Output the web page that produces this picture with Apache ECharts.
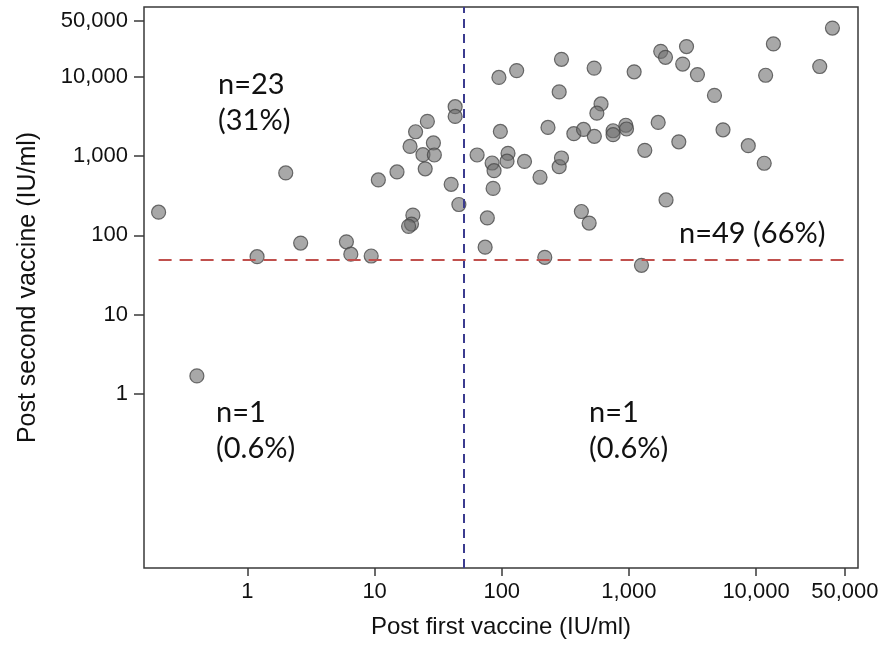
<!DOCTYPE html>
<html>
<head>
<meta charset="utf-8">
<script src="https://cdn.jsdelivr.net/npm/echarts@6/dist/echarts.min.js"></script>
<style>
html,body{margin:0;padding:0;background:#fff;}
#chart{width:882px;height:650px;}
</style>
</head>
<body>
<div id="chart"></div>
<script>
// Post first vaccine (IU/ml)
const postFirst = [
  0.2, 2.0, 1.19, 2.62, 6.0, 6.5, 9.4, 10.7, 15, 19, 21, 26, 24, 29, 29.5, 25, 20, 19.5, 18.5, 40, 46, 43, 43, 0.4,
  64, 95, 97.5, 84, 87, 85.5, 77, 74, 112, 110, 131, 151, 200, 218, 231, 283, 295, 283, 295, 369, 440, 423, 487,
  535, 533, 604, 560, 751, 751, 946, 958, 1100, 1256, 1334, 1700, 1780, 1940, 1960, 2470, 2650, 2840, 3460, 4710,
  5500, 8690, 11600, 11900, 13700, 31700, 39900
];
// Post second vaccine (IU/ml)
const postSecond = [
  196, 612, 54, 80, 83, 58, 55, 500, 630, 1320, 2020, 2730, 1040, 1460, 1030, 690, 180, 139, 130, 440, 245, 4180, 3150, 1.7,
  1030, 9770, 2040, 816, 653, 391, 166, 71, 1080, 860, 11900, 855, 540, 53, 2290, 6420, 16500, 733, 944, 1910, 2160, 200, 143,
  1770, 12800, 4530, 3460, 2080, 1855, 2440, 2190, 11500, 42, 1180, 2650, 20800, 17500, 280, 1510, 14400, 23900, 10600, 5800,
  2140, 1350, 810, 10400, 25800, 13400, 40900
];
const xTickValues = [1, 10, 100, 1000, 10000, 50000];
const xTickLabels = ['1', '10', '100', '1,000', '10,000', '50,000'];
const yTickValues = [1, 10, 100, 1000, 10000, 50000];
const yTickLabels = ['1', '10', '100', '1,000', '10,000', '50,000'];
const cutoffFirst = 50;
const cutoffSecond = 50;
const cutoffLineFrom = 0.2;
const cutoffLineTo = 50000;
const quadrantTexts = ['n=23\n(31%)', 'n=49 (66%)', 'n=1\n(0.6%)', 'n=1\n(0.6%)'];

const points = postFirst.map((v, i) => [v, postSecond[i]]);
const xLabelMap = {}; xTickValues.forEach((v, i) => xLabelMap[v] = xTickLabels[i]);
const yLabelMap = {}; yTickValues.forEach((v, i) => yLabelMap[v] = yTickLabels[i]);

const chart = echarts.init(document.getElementById('chart'), null, {renderer: 'canvas'});
const tickFont = {fontFamily: 'Liberation Sans, Arial, sans-serif', fontSize: 22, color: '#111'};
const annFont = 'Lato, sans-serif';

chart.setOption({
  animation: false,
  backgroundColor: '#fff',
  grid: {left: 144, right: 24, top: 7, bottom: 82, show: true, borderColor: '#3a3a3a', borderWidth: 1.5, containLabel: false},
  xAxis: {
    type: 'log', logBase: 10, min: 0.1535, max: 63400,
    name: 'Post first vaccine (IU/ml)', nameLocation: 'middle', nameGap: 47,
    nameTextStyle: {fontFamily: 'Liberation Sans, Arial, sans-serif', fontSize: 24, color: '#111'},
    axisLine: {show: false},
    axisTick: {show: true, length: 8, lineStyle: {color: '#3a3a3a', width: 1.5}, customValues: xTickValues},
    axisLabel: Object.assign({margin: 13, customValues: xTickValues, formatter: v => xLabelMap[v] !== undefined ? xLabelMap[v] : ''}, tickFont),
    splitLine: {show: false}, minorTick: {show: false}
  },
  yAxis: {
    type: 'log', logBase: 10, min: 0.00647, max: 75300,
    name: 'Post second vaccine (IU/ml)', nameLocation: 'middle', nameGap: 103,
    nameTextStyle: {fontFamily: 'Liberation Sans, Arial, sans-serif', fontSize: 25, color: '#111'},
    axisLine: {show: false},
    axisTick: {show: true, length: 10, lineStyle: {color: '#3a3a3a', width: 1.5}, customValues: yTickValues},
    axisLabel: Object.assign({margin: 16, customValues: yTickValues, formatter: v => yLabelMap[v] !== undefined ? yLabelMap[v] : ''}, tickFont),
    splitLine: {show: false}, minorTick: {show: false}
  },
  series: [
    {
      type: 'scatter', data: [], z: 1, silent: true,
      markLine: {
        silent: true, symbol: ['none', 'none'], label: {show: false}, animation: false,
        data: [
          {xAxis: cutoffFirst, lineStyle: {color: '#3b3b8f', width: 2, type: [9, 6]}},
          [{coord: [cutoffLineFrom, cutoffSecond], lineStyle: {color: '#c0504d', width: 2, type: [13, 8]}}, {coord: [cutoffLineTo, cutoffSecond]}]
        ]
      }
    },
    {
      type: 'scatter', data: points, z: 3, symbol: 'circle', symbolSize: 14,
      itemStyle: {color: 'rgba(110,110,110,0.75)', borderColor: '#4a4a4a', borderWidth: 1.2}
    }
  ],
  graphic: [
    {type: 'text', left: 218, top: 67, style: {text: quadrantTexts[0], font: '29px ' + annFont, fill: '#111', lineHeight: 36}},
    {type: 'text', left: 679, top: 219, style: {text: quadrantTexts[1], font: '29px ' + annFont, fill: '#111'}},
    {type: 'text', left: 216, top: 395, style: {text: quadrantTexts[2], font: '29px ' + annFont, fill: '#111', lineHeight: 36}},
    {type: 'text', left: 589, top: 395, style: {text: quadrantTexts[3], font: '29px ' + annFont, fill: '#111', lineHeight: 36}}
  ]
});
</script>
</body>
</html>
